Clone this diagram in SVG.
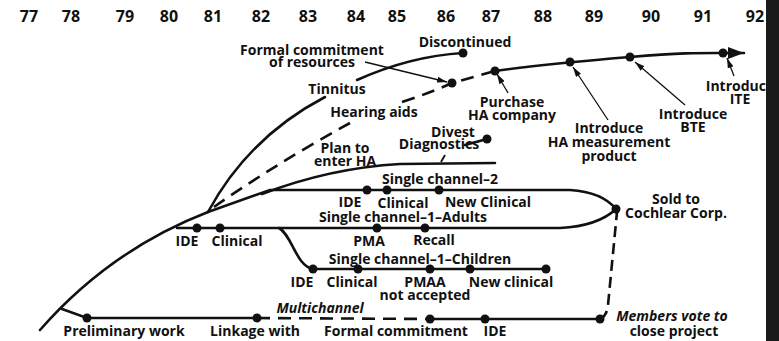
<svg xmlns="http://www.w3.org/2000/svg" width="779" height="341" viewBox="0 0 779 341">
<defs>
<style>
text{font-family:"Open Sans","DejaVu Sans",sans-serif;font-weight:700;font-size:14px;fill:#111;text-anchor:middle}
.yr{font-size:16px}
.it{font-style:italic}
.ln{fill:none;stroke:#111;stroke-width:2.6;stroke-linecap:round}
.ds{fill:none;stroke:#111;stroke-width:2.6;stroke-dasharray:13 8}
.pt{fill:none;stroke:#111;stroke-width:1.3}
.dot{fill:#111}
</style>
<marker id="ah" viewBox="0 0 10 6" refX="10" refY="3" markerWidth="10" markerHeight="6" markerUnits="userSpaceOnUse" orient="auto">
<path d="M0,0 L10,3 L0,6 z" fill="#111"/>
</marker>
<marker id="big" viewBox="0 0 16 12" refX="16" refY="6" markerWidth="16" markerHeight="12" markerUnits="userSpaceOnUse" orient="auto">
<path d="M0,0 L16,6 L0,12 z" fill="#111"/>
</marker>
</defs>
<rect width="779" height="341" fill="#fff"/>

<g id="years">
<text class="yr" x="29" y="22">77</text>
<text class="yr" x="71" y="22">78</text>
<text class="yr" x="125" y="22">79</text>
<text class="yr" x="169" y="22">80</text>
<text class="yr" x="213" y="22">81</text>
<text class="yr" x="261" y="22">82</text>
<text class="yr" x="308" y="22">83</text>
<text class="yr" x="356" y="22">84</text>
<text class="yr" x="397" y="22">85</text>
<text class="yr" x="446" y="22">86</text>
<text class="yr" x="491" y="22">87</text>
<text class="yr" x="543" y="22">88</text>
<text class="yr" x="594" y="22">89</text>
<text class="yr" x="651" y="22">90</text>
<text class="yr" x="703" y="22">91</text>
<text class="yr" x="755" y="22">92</text>
</g>

<g id="connectors">
<path class="ln" d="M40,330 Q110,250 208,212"/>
<path class="ln" d="M208,212 C228,175 262,130 325,97"/>
<path class="ln" d="M357,80 C395,63 430,55 463,53"/>
<path class="ds" d="M214,207 C245,185 300,150 350,123"/>
<path class="ds" d="M402,102 Q430,93 452,83 L495,71"/>
<path class="ln" d="M495,71 C530,66 570,62 630,57 S700,53 744,53" marker-end="url(#big)"/>
<path class="ln" d="M262,194 Q330,168 400,164 L495,163"/>
<path class="pt" d="M441,162 L445,155" style="stroke-width:1.8"/>
<path class="ln" d="M465,145 L487,139"/>
<path class="ln" d="M208,212 L270,190 L570,190 Q602,192 616,209"/>
<path class="ln" d="M177,228 L560,228 Q598,226 616,209"/>
<path class="ln" d="M279,228 C292,235 296,266 313,269 L546,269"/>
<path class="ln" d="M62,309 L87,318 L257,318"/>
<path class="ds" d="M257,318 L430,319"/>
<path class="ln" d="M430,319 L600,319"/>
<path class="ds" d="M600,319 Q607,316 608,305 L617,212" style="stroke-dasharray:11 6"/>
<path class="pt" d="M365,62 L447,82" marker-end="url(#ah)"/>
<path class="pt" d="M508,93 L497,74" marker-end="url(#ah)"/>
<path class="pt" d="M608,120 L573,67" marker-end="url(#ah)"/>
<path class="pt" d="M685,105 L635,62" marker-end="url(#ah)"/>
<path class="pt" d="M734,76 L727,58" marker-end="url(#ah)"/>
</g>

<g id="dots">
<circle class="dot" cx="463" cy="53" r="4.5"/>
<circle class="dot" cx="452" cy="83" r="4.5"/>
<circle class="dot" cx="495" cy="71" r="4.5"/>
<circle class="dot" cx="570" cy="62" r="4.5"/>
<circle class="dot" cx="630" cy="57" r="4.5"/>
<circle class="dot" cx="723" cy="53" r="4.5"/>
<circle class="dot" cx="487" cy="139" r="4.5"/>
<circle class="dot" cx="367" cy="190" r="4.5"/>
<circle class="dot" cx="387" cy="190" r="4.5"/>
<circle class="dot" cx="439" cy="190" r="4.5"/>
<circle class="dot" cx="616" cy="209" r="4.5"/>
<circle class="dot" cx="197" cy="228" r="4.5"/>
<circle class="dot" cx="220" cy="228" r="4.5"/>
<circle class="dot" cx="377" cy="228" r="4.5"/>
<circle class="dot" cx="425" cy="228" r="4.5"/>
<circle class="dot" cx="313" cy="269" r="4.5"/>
<circle class="dot" cx="358" cy="269" r="4.5"/>
<circle class="dot" cx="430" cy="269" r="4.5"/>
<circle class="dot" cx="470" cy="269" r="4.5"/>
<circle class="dot" cx="546" cy="269" r="4.5"/>
<circle class="dot" cx="87" cy="318" r="4.5"/>
<circle class="dot" cx="257" cy="318" r="4.5"/>
<circle class="dot" cx="430" cy="319" r="4.5"/>
<circle class="dot" cx="485" cy="319" r="4.5"/>
<circle class="dot" cx="600" cy="319" r="4.5"/>
</g>

<g id="top-labels">
<text x="312" y="55">Formal commitment</text>
<text x="312" y="67">of resources</text>
<text x="465" y="47">Discontinued</text>
<text x="337" y="94">Tinnitus</text>
<text x="374" y="117">Hearing aids</text>
<text x="512" y="107">Purchase</text>
<text x="512" y="120">HA company</text>
<text x="609" y="133">Introduce</text>
<text x="609" y="147">HA measurement</text>
<text x="609" y="161">product</text>
<text x="693" y="119">Introduce</text>
<text x="693" y="132">BTE</text>
<text x="740" y="91">Introduce</text>
<text x="740" y="104">ITE</text>
<text x="453" y="137">Divest</text>
<text x="439" y="149">Diagnostics</text>
<text x="345" y="153">Plan to</text>
<text x="345" y="166">enter HA</text>
</g>

<g id="single-channel-2">
<text x="440" y="184">Single channel–2</text>
<text x="350" y="207">IDE</text>
<text x="403" y="208">Clinical</text>
<text x="488" y="207">New Clinical</text>
</g>

<g id="single-channel-1-adults">
<text x="403" y="222">Single channel–1–Adults</text>
<text x="187" y="246">IDE</text>
<text x="237" y="246">Clinical</text>
<text x="369" y="246">PMA</text>
<text x="434" y="245">Recall</text>
</g>

<g id="single-channel-1-children">
<text x="420" y="264">Single channel–1–Children</text>
<text x="302" y="287">IDE</text>
<text x="352" y="287">Clinical</text>
<text x="425" y="287">PMAA</text>
<text x="425" y="300">not accepted</text>
<text x="511" y="287">New clinical</text>
</g>

<g id="multichannel">
<text class="it" x="320" y="313">Multichannel</text>
<text x="124" y="336">Preliminary work</text>
<text x="255" y="336">Linkage with</text>
<text x="396" y="336">Formal commitment</text>
<text x="495" y="336">IDE</text>
</g>

<g id="end-labels">
<text x="676" y="204">Sold to</text>
<text x="676" y="218">Cochlear Corp.</text>
<text class="it" x="672" y="321">Members vote to</text>
<text x="674" y="336">close project</text>
</g>

<rect x="766" y="0" width="13" height="341" fill="#1a1a1a"/>
</svg>
